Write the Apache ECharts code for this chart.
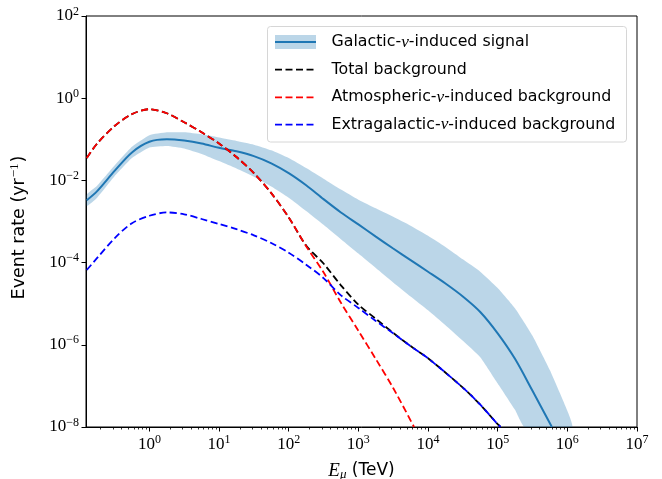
<!DOCTYPE html>
<html>
<head>
<meta charset="utf-8">
<script src="https://cdn.jsdelivr.net/npm/echarts@6/dist/echarts.min.js"></script>
<style>
  html, body { margin: 0; padding: 0; background: #fff; }
  #chart { width: 662px; height: 479px; }
</style>
</head>
<body>
<div id="chart"></div>
<script>
// muon energy (TeV) and event rates (yr^-1)
const sigE    = [0.126, 0.178, 0.316, 0.562, 1, 1.78, 3.16, 5.62, 10, 17.8, 31.6, 56.2, 100, 178, 316, 562, 1000, 1780, 3160, 5620, 1e4, 1.78e4, 3.16e4, 5.62e4, 1e5, 1.78e5, 3.16e5, 6.0e5];
const sigMid  = [3.3e-3, 5.5e-3, 1.7e-2, 4.8e-2, 8.7e-2, 0.1, 9.3e-2, 7.9e-2, 6.2e-2, 5.1e-2, 3.9e-2, 2.6e-2, 1.5e-2, 7.6e-3, 3.5e-3, 1.66e-3, 8.5e-4, 4.3e-4, 2.2e-4, 1.15e-4, 6.0e-5, 3.1e-5, 1.5e-5, 6.3e-6, 1.9e-6, 4.5e-7, 7.6e-8, 1e-8];

const bandHiE = [0.126, 0.178, 0.316, 0.562, 1, 1.78, 3.16, 5.62, 10, 17.8, 31.6, 56.2, 100, 178, 316, 562, 1000, 1780, 3160, 5620, 1e4, 1.78e4, 3.16e4, 5.62e4, 1e5, 1.78e5, 3.16e5, 5.62e5, 1e6, 1.17e6];
const bandHi  = [4.5e-3, 7.4e-3, 2.3e-2, 6.6e-2, 0.126, 0.148, 0.148, 0.132, 0.11, 9.1e-2, 7.4e-2, 5.4e-2, 3.5e-2, 2.0e-2, 1.1e-2, 6.0e-3, 3.4e-3, 2.1e-3, 1.3e-3, 7.9e-4, 4.5e-4, 2.4e-4, 1.2e-4, 6.0e-5, 2.4e-5, 7.6e-6, 1.66e-6, 2.4e-7, 2.5e-8, 1e-8];
const bandLoE = [0.126, 0.178, 0.316, 0.562, 1, 1.78, 3.16, 5.62, 10, 17.8, 31.6, 56.2, 100, 178, 316, 562, 1000, 1780, 3160, 5620, 1e4, 1.78e4, 3.16e4, 5.62e4, 1e5, 1.78e5, 2.45e5];
const bandLo  = [2.4e-3, 3.8e-3, 1.26e-2, 3.5e-2, 6.3e-2, 6.9e-2, 6.0e-2, 4.4e-2, 2.95e-2, 1.95e-2, 1.23e-2, 7.1e-3, 3.8e-3, 1.8e-3, 8.3e-4, 3.7e-4, 1.66e-4, 7.4e-5, 3.3e-5, 1.5e-5, 6.9e-6, 3.0e-6, 1.26e-6, 5.0e-7, 1.15e-7, 2.6e-8, 1e-8];

const atmE    = [0.126, 0.178, 0.316, 0.562, 1, 1.78, 3.16, 5.62, 10, 17.8, 31.6, 56.2, 100, 178, 316, 562, 1000, 1780, 3160, 6300];
const atmRate = [3.5e-2, 7.9e-2, 0.21, 0.41, 0.54, 0.43, 0.26, 0.148, 7.9e-2, 3.7e-2, 1.5e-2, 4.9e-3, 1.26e-3, 2.5e-4, 5.8e-5, 1.05e-5, 2.2e-6, 4.5e-7, 8.9e-8, 1e-8];

const totE    = [0.126, 0.178, 0.316, 0.562, 1, 1.78, 3.16, 5.62, 10, 17.8, 31.6, 56.2, 100, 178, 316, 562, 1000, 1780, 3160, 5620, 1e4, 3.16e4, 5.62e4, 1e5, 1.1e5];
const totRate = [3.5e-2, 7.9e-2, 0.21, 0.41, 0.54, 0.43, 0.26, 0.148, 7.9e-2, 3.7e-2, 1.5e-2, 4.9e-3, 1.26e-3, 2.6e-4, 9.5e-5, 2.8e-5, 9.5e-6, 4.3e-6, 1.95e-6, 9.3e-7, 4.7e-7, 9.1e-8, 3.5e-8, 1.17e-8, 1e-8];

const extE    = [0.126, 0.178, 0.316, 0.562, 1, 1.78, 3.16, 5.62, 10, 17.8, 31.6, 56.2, 100, 178, 316, 562, 1000, 1780, 3160, 5620, 1e4, 3.16e4, 5.62e4, 1e5, 1.1e5];
const extRate = [6.6e-5, 1.3e-4, 3.9e-4, 9.1e-4, 1.38e-3, 1.66e-3, 1.5e-3, 1.15e-3, 8.7e-4, 6.5e-4, 4.6e-4, 3.0e-4, 1.74e-4, 8.9e-5, 4.2e-5, 1.6e-5, 7.9e-6, 3.8e-6, 1.9e-6, 9.3e-7, 4.7e-7, 9.1e-8, 3.5e-8, 1.17e-8, 1e-8];

// axis ticks
const xMajor = [1, 10, 100, 1e3, 1e4, 1e5, 1e6, 1e7];
const yMajor = [1e-8, 1e-6, 1e-4, 1e-2, 1, 100];
const xMin = 0.123, xMax = 1e7;

let xMinor = [];
for (let p = -1; p < 7; p++) {
    for (let k = 2; k < 10; k++) {
        const v = k * Math.pow(10, p);
        if (v > xMin) xMinor.push(v);
    }
}

const zip = (a, b) => a.map((v, i) => [v, b[i]]);

function powLabel(v) {
    const n = Math.round(Math.log10(v));
    return '{b|10}{s|' + (n < 0 ? '\u2212' + (-n) : n) + '}';
}

const tickRich = {
    b: { fontFamily: 'Liberation Serif', fontSize: 17, color: '#000' },
    s: { fontFamily: 'Liberation Serif', fontSize: 12, color: '#000', padding: [0, 0, 9, 0] }
};

const sans = 'DejaVu Sans';
const legFont = 15.8;

var myChart = echarts.init(document.getElementById('chart'));

const dash = [7, 3.5];

const options = {
    animation: false,
    grid: {
        left: 86, right: 25, top: 16, bottom: 52,
        outerBoundsMode: 'none',
        containLabel: false,
        show: true, borderColor: '#000', borderWidth: 1, backgroundColor: 'transparent'
    },
    xAxis: [
        {
            type: 'log', logBase: 10, min: xMin, max: xMax,
            position: 'bottom',
            axisLine: { show: true, onZero: false, lineStyle: { color: '#000', width: 1 } },
            axisTick: { show: true, length: 4.5, customValues: xMajor, lineStyle: { color: '#000', width: 1 } },
            axisLabel: { customValues: xMajor, formatter: powLabel, rich: tickRich, margin: 7 },
            splitLine: { show: false },
            name: '{e|E}{m|\u03bc}{t| (TeV)}',
            nameLocation: 'middle',
            nameGap: 34,
            nameTextStyle: {
                rich: {
                    e: { fontFamily: 'Liberation Serif', fontStyle: 'italic', fontSize: 19, color: '#000' },
                    m: { fontFamily: 'Liberation Serif', fontStyle: 'italic', fontSize: 13, color: '#000', padding: [7, 0, 0, 0] },
                    t: { fontFamily: sans, fontSize: 17, color: '#000' }
                }
            }
        },
        {
            type: 'log', logBase: 10, min: xMin, max: xMax,
            position: 'bottom',
            axisLine: { show: false },
            axisTick: { show: true, length: 2.5, customValues: xMinor, lineStyle: { color: '#000', width: 0.8 } },
            axisLabel: { show: false },
            splitLine: { show: false }
        }
    ],
    yAxis: {
        type: 'log', logBase: 10, min: 1e-8, max: 100,
        axisLine: { show: true, onZero: false, lineStyle: { color: '#000', width: 1 } },
        axisTick: { show: true, length: 4.5, customValues: yMajor, lineStyle: { color: '#000', width: 1 } },
        axisLabel: { customValues: yMajor, formatter: powLabel, rich: tickRich, margin: 7 },
        splitLine: { show: false },
        name: '{a|Event rate (yr}{s|\u22121}{a|)}',
        nameLocation: 'middle',
        nameRotate: 90,
        nameGap: 55,
        nameTextStyle: {
            padding: [0, 12, 0, 0],
            rich: {
                a: { fontFamily: sans, fontSize: 17.5, color: '#000' },
                s: { fontFamily: 'Liberation Serif', fontSize: 13, color: '#000', padding: [0, 1, 10, 1] }
            }
        }
    },
    series: [
        {
            name: 'Galactic-\u03bd-induced signal band',
            type: 'custom',
            data: [[1, 1]],
            z: 1,
            renderItem: function (params, api) {
                const pts = [];
                bandHiE.forEach((e, i) => pts.push(api.coord([e, bandHi[i]])));
                for (let i = bandLoE.length - 1; i >= 0; i--) pts.push(api.coord([bandLoE[i], bandLo[i]]));
                const cs = params.coordSys;
                return {
                    type: 'polygon',
                    shape: { points: pts, smooth: 0.15 },
                    style: { fill: 'rgba(31,119,180,0.3)' },
                    clipPath: { type: 'rect', shape: { x: cs.x, y: cs.y, width: cs.width, height: cs.height } }
                };
            }
        },
        {
            name: 'Galactic-\u03bd-induced signal',
            type: 'line', data: zip(sigE, sigMid), showSymbol: false, smooth: 0.3, z: 2,
            lineStyle: { color: '#1f77b4', width: 2 }
        },
        {
            name: 'Total background',
            type: 'line', data: zip(totE, totRate), showSymbol: false, smooth: 0.3, z: 3,
            lineStyle: { color: '#000', width: 1.8, type: dash }
        },
        {
            name: 'Atmospheric-\u03bd-induced background',
            type: 'line', data: zip(atmE, atmRate), showSymbol: false, smooth: 0.3, z: 4,
            lineStyle: { color: '#ff0000', width: 1.8, type: dash }
        },
        {
            name: 'Extragalactic-\u03bd-induced background',
            type: 'line', data: zip(extE, extRate), showSymbol: false, smooth: 0.3, z: 5,
            lineStyle: { color: '#0000ff', width: 1.8, type: dash }
        }
    ],
    graphic: []
};

// legend drawn by hand (band patch + line needs two colours)
const legX = 275, legW = 41, rowY = [42, 69.7, 97.3, 124.7];
const legRich = {
    t: { fontFamily: sans, fontSize: legFont, fill: '#000' },
    n: { fontFamily: 'Liberation Serif', fontStyle: 'italic', fontSize: legFont + 1.5, fill: '#000' }
};
const legTexts = [
    '{t|Galactic-}{n|\u03bd}{t|-induced signal}',
    '{t|Total background}',
    '{t|Atmospheric-}{n|\u03bd}{t|-induced background}',
    '{t|Extragalactic-}{n|\u03bd}{t|-induced background}'
];
const legColors = ['#1f77b4', '#000', '#ff0000', '#0000ff'];

options.graphic.push({
    type: 'rect', z: 100,
    shape: { x: 267.5, y: 26.5, width: 359, height: 115.5, r: 3 },
    style: { fill: 'rgba(255,255,255,0.8)', stroke: '#d6d6d6', lineWidth: 1 }
});
options.graphic.push({
    type: 'rect', z: 101,
    shape: { x: legX, y: rowY[0] - 7, width: legW, height: 14 },
    style: { fill: 'rgba(31,119,180,0.3)' }
});
rowY.forEach((y, i) => {
    options.graphic.push({
        type: 'line', z: 102,
        shape: { x1: legX, y1: y, x2: legX + legW, y2: y },
        style: { stroke: legColors[i], lineWidth: i === 0 ? 2 : 1.8, lineDash: i === 0 ? null : dash }
    });
    options.graphic.push({
        type: 'text', z: 102, x: 331.5, y: y,
        style: { text: legTexts[i], rich: legRich, align: 'left', verticalAlign: 'middle' }
    });
});

myChart.setOption(options);
</script>
</body>
</html>
